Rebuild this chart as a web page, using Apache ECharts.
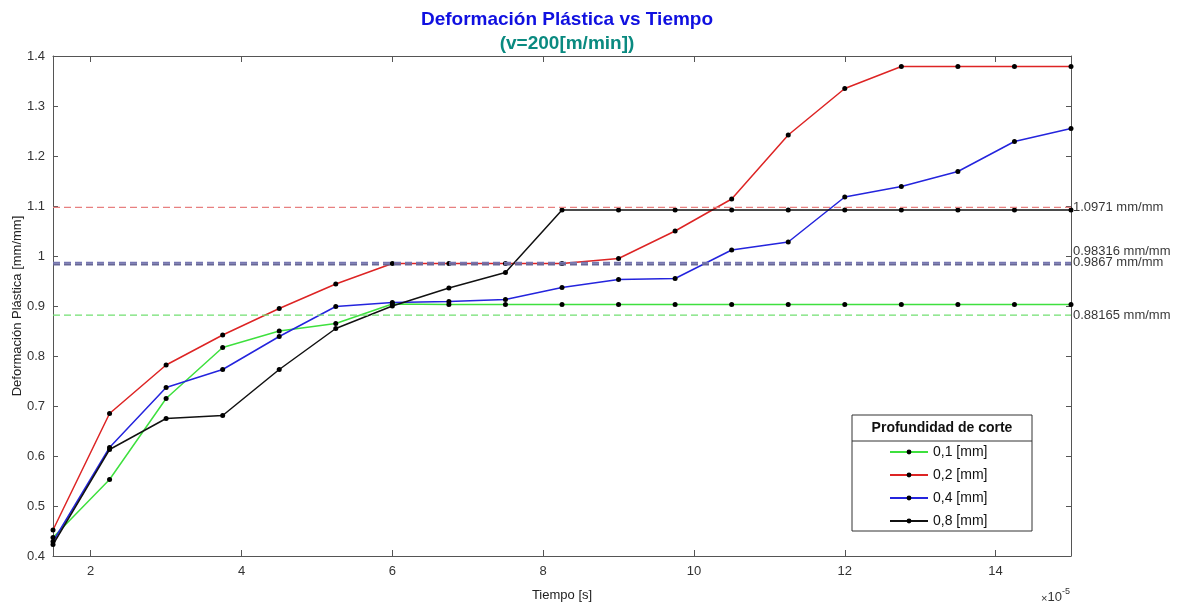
<!DOCTYPE html>
<html>
<head>
<meta charset="utf-8">
<script src="https://cdn.jsdelivr.net/npm/echarts@6/dist/echarts.min.js"></script>
<style>
  html, body { margin: 0; padding: 0; background: #ffffff; }
  #chart { width: 1183px; height: 605px; }
</style>
</head>
<body>
<div id="chart"></div>
<script>
// Time samples (units of 1e-5 s)
const tiempo = [1.5, 2.25, 3, 3.75, 4.5, 5.25, 6, 6.75, 7.5, 8.25, 9, 9.75, 10.5, 11.25, 12, 12.75, 13.5, 14.25, 15];

// Plastic strain for each depth of cut [mm/mm]
const prof01 = [0.437, 0.553, 0.715, 0.817, 0.850, 0.865, 0.904, 0.903, 0.903, 0.903, 0.903, 0.903, 0.903, 0.903, 0.903, 0.903, 0.903, 0.903, 0.903];
const prof02 = [0.452, 0.685, 0.782, 0.842, 0.895, 0.944, 0.985, 0.985, 0.985, 0.985, 0.995, 1.050, 1.114, 1.242, 1.335, 1.379, 1.379, 1.379, 1.379];
const prof04 = [0.429, 0.617, 0.737, 0.773, 0.839, 0.899, 0.907, 0.909, 0.913, 0.937, 0.953, 0.955, 1.012, 1.028, 1.118, 1.139, 1.169, 1.229, 1.255];
const prof08 = [0.423, 0.613, 0.675, 0.681, 0.773, 0.855, 0.900, 0.936, 0.967, 1.092, 1.092, 1.092, 1.092, 1.092, 1.092, 1.092, 1.092, 1.092, 1.092];

const seriesNames = ['0,1 [mm]', '0,2 [mm]', '0,4 [mm]', '0,8 [mm]'];
const seriesValues = [prof01, prof02, prof04, prof08];
const seriesColors = ['#3ee03e', '#dd2424', '#2424dd', '#111111'];

// Horizontal reference levels [mm/mm]
const refValues = [1.0971, 0.98316, 0.9867, 0.88165];
const refColors = ['#e88080', '#686896', '#7676b0', '#72e072'];
const refWidths = [1.2, 2, 2, 1.2];
const refLabelShift = [0, -13, 0, 0];

// Axis ticks
const xTicks = [2, 4, 6, 8, 10, 12, 14];
const xMin = 1.5, xMax = 15;
const yMin = 0.4, yMax = 1.4, yStep = 0.1;

const axisColor = '#555555';
const font = "'Liberation Sans', Arial, Helvetica, sans-serif";

const pairs = vals => tiempo.map((t, i) => [t, vals[i]]);

const dataSeries = seriesNames.map((name, k) => ({
  name: name,
  type: 'line',
  data: pairs(seriesValues[k]),
  symbol: 'circle',
  symbolSize: 5,
  showAllSymbol: true,
  lineStyle: { color: seriesColors[k], width: 1.5 },
  itemStyle: { color: '#000000' },
  emphasis: { disabled: true },
  z: 3
}));

const refSeries = refValues.map((v, k) => ({
  name: 'ref' + k,
  type: 'line',
  data: [[xMin, v], [xMax, v]],
  symbol: 'none',
  lineStyle: { color: refColors[k], width: refWidths[k], type: [7, 4] },
  silent: true,
  z: 4
}));

const refLabelSeries = {
  name: 'refLabels',
  type: 'scatter',
  symbolSize: 0,
  silent: true,
  data: refValues.map((v, k) => ({
    value: [xMax, v],
    label: { offset: [0, refLabelShift[k]] }
  })),
  label: {
    show: true,
    position: 'right',
    distance: 2,
    color: '#000000',
    fontFamily: font,
    fontSize: 13,
    formatter: p => p.value[1] + ' mm/mm'
  },
  z: 5
};

const chart = echarts.init(document.getElementById('chart'), null, { renderer: 'canvas' });

chart.setOption({
  backgroundColor: '#ffffff',
  animation: false,
  title: {
    text: 'Deformación Plástica vs Tiempo',
    subtext: '(v=200[m/min])',
    left: 562,
    textAlign: 'center',
    top: 5,
    itemGap: 5,
    textStyle: { color: '#1010e0', fontFamily: "'Liberation Sans Narrow', " + font, fontWeight: 'bold', fontSize: 19 },
    subtextStyle: { color: '#0a8a80', fontFamily: "'Liberation Sans Narrow', " + font, fontWeight: 'bold', fontSize: 19 }
  },
  grid: { left: 53, right: 112, top: 56, bottom: 49, outerBoundsMode: 'none', containLabel: false },
  legend: {
    data: seriesNames,
    orient: 'vertical',
    left: 889,
    top: 445,
    padding: 0,
    itemWidth: 38,
    itemHeight: 6,
    itemGap: 9,
    textStyle: { color: '#111111', fontFamily: font, fontSize: 14 },
    selectedMode: false,
    z: 20
  },
  xAxis: [{
    type: 'value',
    min: xMin, max: xMax,
    name: 'Tiempo [s]',
    nameLocation: 'middle',
    nameGap: 33,
    nameMoveOverlap: false,
    nameTextStyle: { color: '#222222', fontFamily: font, fontSize: 13 },
    axisLine: { show: true, lineStyle: { color: axisColor, width: 1 } },
    axisTick: { show: true, inside: true, length: 6, customValues: xTicks, lineStyle: { color: axisColor } },
    axisLabel: { show: true, customValues: xTicks, color: '#333333', fontFamily: font, fontSize: 13, margin: 9 },
    splitLine: { show: false }
  }, {
    type: 'value',
    position: 'top',
    min: xMin, max: xMax,
    axisLine: { show: true, lineStyle: { color: axisColor, width: 1 } },
    axisTick: { show: true, inside: true, length: 6, customValues: xTicks, lineStyle: { color: axisColor } },
    axisLabel: { show: false },
    splitLine: { show: false }
  }],
  yAxis: [{
    type: 'value',
    min: yMin, max: yMax, interval: yStep,
    name: 'Deformación Plástica [mm/mm]',
    nameLocation: 'middle',
    nameGap: 29,
    nameMoveOverlap: false,
    nameTextStyle: { color: '#222222', fontFamily: font, fontSize: 13 },
    axisLine: { show: true, lineStyle: { color: axisColor, width: 1 } },
    axisTick: { show: true, inside: true, length: 5, lineStyle: { color: axisColor } },
    axisLabel: { color: '#333333', fontFamily: font, fontSize: 13, margin: 8 },
    splitLine: { show: false }
  }, {
    type: 'value',
    position: 'right',
    min: yMin, max: yMax, interval: yStep,
    axisLine: { show: true, lineStyle: { color: axisColor, width: 1 } },
    axisTick: { show: true, inside: true, length: 5, lineStyle: { color: axisColor } },
    axisLabel: { show: false },
    splitLine: { show: false }
  }],
  graphic: [
    {
      type: 'rect',
      shape: { x: 852, y: 415, width: 180, height: 116 },
      style: { fill: '#ffffff', stroke: '#333333', lineWidth: 1 },
      z: 10
    },
    {
      type: 'line',
      shape: { x1: 852, y1: 441, x2: 1032, y2: 441 },
      style: { stroke: '#333333', lineWidth: 1 },
      z: 11
    },
    {
      type: 'text',
      x: 942, y: 428,
      style: {
        text: 'Profundidad de corte',
        fill: '#111111',
        font: "bold 14px 'Liberation Sans', Arial, sans-serif",
        align: 'center',
        verticalAlign: 'middle'
      },
      z: 11
    },
    {
      type: 'text',
      right: 113, top: 587,
      style: {
        text: '{a|×}{c|10}{b|-5}',
        rich: {
          a: { fontFamily: font, fontSize: 11, fill: '#333333', verticalAlign: 'bottom' },
          c: { fontFamily: font, fontSize: 13, fill: '#333333', verticalAlign: 'bottom' },
          b: { fontFamily: font, fontSize: 9, fill: '#333333', verticalAlign: 'top', padding: [0, 0, 8, 0] }
        }
      }
    }
  ],
  series: dataSeries.concat(refSeries, [refLabelSeries])
});
</script>
</body>
</html>
